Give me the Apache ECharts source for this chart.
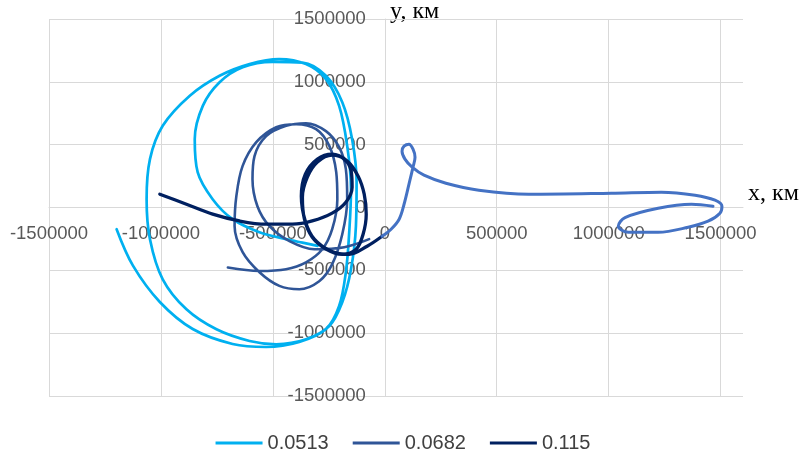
<!DOCTYPE html>
<html>
<head>
<meta charset="utf-8">
<script src="https://cdn.jsdelivr.net/npm/echarts@6/dist/echarts.min.js"></script>
<style>
html,body{margin:0;padding:0;background:#fff;}
#chart{width:806px;height:454px;}
</style>
</head>
<body>
<div id="chart"></div>
<script>
// ---- data (km) ----
var seriesNames = ['0.0513', '0.0682', '0.115'];
var xTicks = [-1500000, -1000000, -500000, 0, 500000, 1000000, 1500000];
var yTicks = [-1500000, -1000000, -500000, 0, 500000, 1000000, 1500000];

var s0513 = [
  [-1198000,-173000],[-1125000,-463000],[-1005000,-752000],[-858000,-967000],[-680000,-1086000],
  [-530000,-1110000],[-382000,-1070000],[-263000,-967000],[-204000,-783000],[-174000,-515000],
  [-159000,-197000],[-151000,146000],[-168000,490000],[-204000,809000],[-263000,1022000],
  [-352000,1141000],[-472000,1181000],[-604000,1141000],[-738000,1048000],[-871000,889000],
  [-992000,650000],[-1049000,385000],[-1064000,66000],[-1049000,-252000],[-992000,-571000],
  [-886000,-810000],[-752000,-969000],[-604000,-1062000],[-485000,-1088000],[-352000,-1049000],
  [-248000,-943000],[-190000,-754000],[-151000,-491000],[-129000,-147000],[-126000,201000],
  [-146000,544000],[-190000,838000],[-263000,1048000],[-368000,1153000],[-502000,1159000],
  [-635000,1116000],[-738000,997000],[-813000,809000],[-849000,544000],[-836000,281000],
  [-769000,66000],[-680000,-93000],[-560000,-197000],[-441000,-252000],[-368000,-280000],
  [-300000,-305000]
];

var s0682 = [
  [-701000,-478000],[-560000,-505000],[-441000,-491000],[-352000,-436000],[-279000,-332000],
  [-235000,-173000],[-212000,66000],[-217000,281000],[-248000,490000],[-307000,623000],
  [-396000,663000],[-485000,639000],[-574000,520000],[-635000,331000],[-663000,92000],
  [-671000,-147000],[-635000,-356000],[-560000,-515000],[-471000,-624000],[-382000,-651000],
  [-293000,-587000],[-235000,-451000],[-190000,-213000],[-168000,66000],[-174000,305000],
  [-204000,480000],[-263000,608000],[-352000,671000],[-441000,650000],[-530000,568000],
  [-582000,409000],[-591000,225000],[-569000,10000],[-515000,-149000],[-426000,-268000],
  [-315000,-332000],[-181000,-316000],[-70000,-252000]
];

var s0115 = [
  [-1005000,106000],[-886000,26000],[-769000,-53000],[-649000,-107000],[-530000,-133000],
  [-413000,-133000],[-324000,-107000],[-235000,-45000],[-174000,42000],[-146000,162000],
  [-150000,289000],[-181000,385000],[-235000,416000],[-301000,361000],[-346000,241000],
  [-368000,82000],[-359000,-93000],[-324000,-237000],[-261000,-332000],[-190000,-372000],
  [-128000,-332000],[-97000,-213000],[-83000,-53000],[-92000,106000],[-119000,249000],
  [-168000,369000],[-235000,424000],[-301000,385000],[-355000,265000],[-373000,90000],
  [-355000,-110000],[-315000,-252000],[-239000,-348000],[-159000,-372000],[-79000,-308000],
  [-12000,-229000]
];

var sExtra = [
  [-12000,-229000],[28000,-173000],[64000,-93000],[86000,26000],[108000,186000],
  [126000,321000],[135000,400000],[126000,464000],[108000,504000],[86000,488000],
  [77000,448000],[90000,385000],[122000,321000],[175000,257000],[273000,193000],
  [420000,138000],[643000,106000],[1012000,114000],[1235000,122000],[1386000,98000],
  [1475000,58000],[1506000,10000],[1497000,-45000],[1444000,-109000],[1355000,-157000],
  [1221000,-197000],[1088000,-197000],[1043000,-149000],[1073000,-80000],[1221000,-6000],
  [1370000,26000],[1466000,10000]
];

var colors = ['#00B0F0', '#2F5597', '#002060', '#4472C4'];

var chart = echarts.init(document.getElementById('chart'), null, {renderer: 'canvas'});
var gridColor = '#D9D9D9';
var labelStyle = {color: '#595959', fontFamily: 'Liberation Sans', fontSize: 18.5};
var gridLeft = 49, gridTop = 19, gridW = 694, gridH = 377;
var xMin = -1500000, xMax = 1600000;
// axis offsets so that the axes cross at zero (Excel style)
var xAxisOffset = -(gridH * (0 - yTicks[0]) / (yTicks[yTicks.length - 1] - yTicks[0]));
var yAxisOffset = -(gridW * (0 - xMin) / (xMax - xMin));

function mkSeries(name, data, color, width) {
  return {
    name: name, type: 'line', data: data, smooth: 0.35, symbol: 'none',
    lineStyle: {color: color, width: width, cap: 'round', join: 'round'},
    itemStyle: {color: color}, animation: false
  };
}
// split line colours cycle over the ticks; the extra tick at the max (1600000) is hidden
var xSplitColors = [];
for (var i = 0; i < xTicks.length; i++) xSplitColors.push(gridColor);
xSplitColors.push('rgba(0,0,0,0)');

chart.setOption({
  animation: false,
  grid: {left: gridLeft, top: gridTop, width: gridW, height: gridH, containLabel: false, outerBoundsMode: 'none'},
  legend: {
    data: seriesNames, left: 'center', top: 428, itemWidth: 47, itemHeight: 3, itemGap: 24,
    icon: 'rect',
    textStyle: {color: '#404040', fontFamily: 'Liberation Sans', fontSize: 20}
  },
  xAxis: {
    type: 'value', min: xMin, max: xMax, interval: 500000, position: 'bottom', offset: xAxisOffset,
    axisLine: {show: true, onZero: false, lineStyle: {color: gridColor, width: 1}},
    axisTick: {show: false},
    splitLine: {show: true, lineStyle: {color: xSplitColors, width: 1}},
    axisLabel: Object.assign({margin: 17, showMaxLabel: false, showMinLabel: true,
      formatter: function (v) { return xTicks.indexOf(v) >= 0 ? String(v) : ''; }}, labelStyle)
  },
  yAxis: {
    type: 'value', min: yTicks[0], max: yTicks[yTicks.length - 1], interval: 500000,
    position: 'left', offset: yAxisOffset,
    axisLine: {show: true, onZero: false, lineStyle: {color: gridColor, width: 1}},
    axisTick: {show: false},
    splitLine: {show: true, lineStyle: {color: gridColor, width: 1}},
    axisLabel: Object.assign({margin: 19, formatter: function (v) { return String(v); }}, labelStyle)
  },
  graphic: [
    {type: 'text', left: 390, top: 0, style: {text: 'y, км', fill: '#000', font: '24px "Liberation Serif"'}},
    {type: 'text', left: 748, top: 182, style: {text: 'x, км', fill: '#000', font: '24px "Liberation Serif"'}}
  ],
  series: [
    mkSeries(seriesNames[0], s0513, colors[0], 2.7),
    mkSeries(seriesNames[1], s0682, colors[1], 2.6),
    mkSeries(seriesNames[2], s0115, colors[2], 3.3),
    mkSeries('extra', sExtra, colors[3], 3)
  ]
});
</script>
</body>
</html>
